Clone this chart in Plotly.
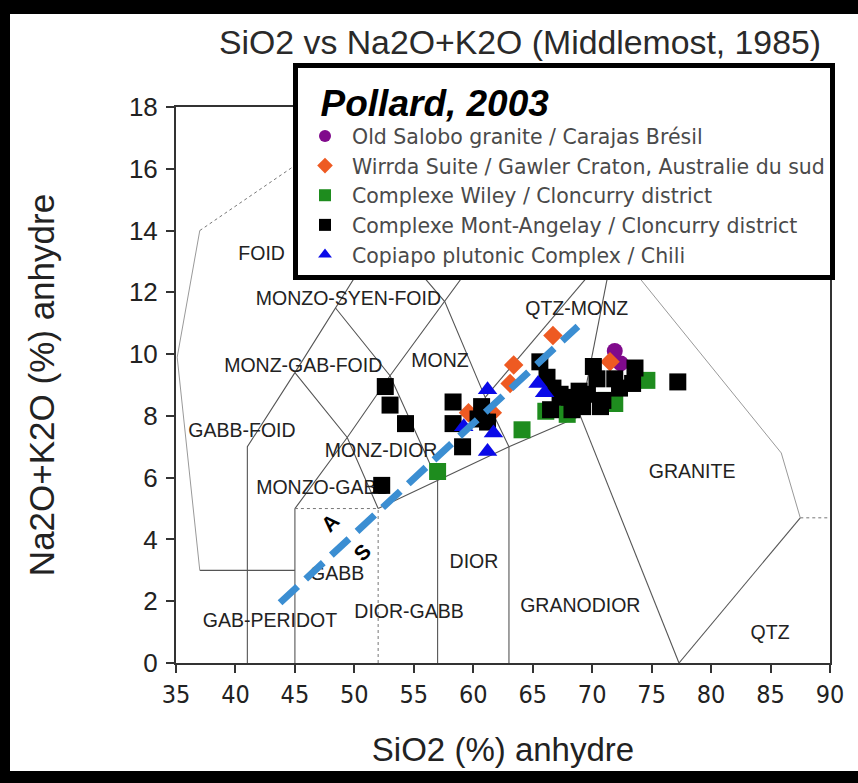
import plotly.graph_objects as go

# ---------------- data ----------------
salobo_x = [71.9, 72.4]
salobo_y = [10.1, 9.7]

wirrda_x = [66.7, 63.4, 63.1, 71.5, 59.6, 61.6]
wirrda_y = [10.6, 9.65, 9.05, 9.75, 8.1, 8.1]

wiley_x = [57.0, 64.1, 66.1, 67.9, 68.1, 71.2, 74.6, 71.9]
wiley_y = [6.2, 7.55, 8.15, 8.05, 8.3, 8.5, 9.15, 8.4]

angelay_x = [52.6, 53.0, 54.3, 52.3, 58.3, 58.3, 59.1, 60.7, 61.2, 60.4,
             65.6, 66.2, 66.7, 66.5, 67.3, 67.9, 68.3, 68.9, 69.6, 70.1,
             70.4, 70.9, 70.7, 71.9, 72.3, 73.4, 73.6, 77.2, 69.2]
angelay_y = [8.95, 8.35, 7.75, 5.75, 8.45, 7.75, 7.0, 8.3, 7.8, 7.9,
             9.75, 9.25, 8.9, 8.2, 8.7, 8.6, 8.2, 8.8, 8.7, 9.6,
             9.2, 8.5, 8.3, 9.2, 8.9, 9.05, 9.55, 9.1, 8.3]

copiapo_x = [61.2, 59.2, 61.7, 61.2, 65.45, 66.0]
copiapo_y = [8.85, 7.65, 7.45, 6.85, 9.05, 8.75]

divide_x = [43.75, 68.8]
divide_y = [1.95, 10.9]

# field boundaries (Middlemost)
solid_lines = [
    [(41, 0), (41, 7), (45, 9.4), (48.4, 11.5), (52.5, 14), (55, 16.5)],
    [(45, 0), (45, 5)],
    [(45, 5), (49.4, 7.3), (53, 9.3), (57.6, 11.7), (61, 13.5), (63, 16.2)],
    [(52, 5), (57, 5.9), (63, 7), (69, 8)],
    [(45, 9.4), (49.4, 7.3), (52, 5)],
    [(48.4, 11.5), (53, 9.3), (57, 5.9)],
    [(52.5, 14), (57.6, 11.7), (61, 8.6), (63, 7)],
    [(57, 0), (57, 5.9)],
    [(63, 0), (63, 7)],
    [(69, 8), (77.3, 0)],
    [(61, 8.6), (71.8, 13.5)],
    [(69, 8), (71.8, 13.5)],
    [(37, 3), (45, 3)],
    [(77.3, 0), (87.5, 4.7)],
]
outer_lines = [
    [(37, 3), (35.1, 9.9), (37, 14)],
    [(87.5, 4.7), (85.9, 6.8), (71.8, 13.5), (63, 16.2)],
]
dotted_lines = [
    [(45, 5), (52, 5)],
    [(52, 0), (52, 5)],
    [(87.5, 4.7), (90, 4.7)],
    [(37, 14), (44.6, 16), (52, 18)],
]

field_names = ["FOID", "MONZO-SYEN-FOID", "MONZ-GAB-FOID", "MONZ", "QTZ-MONZ",
               "GABB-FOID", "MONZ-DIOR", "MONZO-GABB", "GABB", "DIOR",
               "DIOR-GABB", "GRANODIOR", "GRANITE", "GAB-PERIDOT", "QTZ"]
field_x = [42.2, 49.5, 45.7, 57.2, 68.7, 40.55, 52.25, 47.35, 48.55, 60.06,
           54.6, 69.0, 78.4, 42.9, 84.96]
field_y = [13.2, 11.74, 9.58, 9.74, 11.42, 7.48, 6.83, 5.63, 2.85, 3.24,
           1.62, 1.81, 6.15, 1.33, 0.94]

side_labels = ["A", "S"]
side_x = [47.95, 50.64]
side_y = [4.56, 3.59]

x_ticks = [35, 40, 45, 50, 55, 60, 65, 70, 75, 80, 85, 90]
y_ticks = [0, 2, 4, 6, 8, 10, 12, 14, 16, 18]

# ---------------- figure ----------------
W, H = 858, 783
ML, MR, MT, MB = 176, 28, 107, 120
PW, PH = W - ML - MR, H - MT - MB


def px(xp):
    return (xp - ML) / PW


def py(yp):
    return (H - MB - yp) / PH


def flatten(groups):
    xs, ys = [], []
    for g in groups:
        for (a, b) in g:
            xs.append(a)
            ys.append(b)
        xs.append(None)
        ys.append(None)
    return xs, ys


fig = go.Figure()

sx, sy = flatten(solid_lines)
fig.add_trace(go.Scatter(x=sx, y=sy, mode="lines", line=dict(color="#555", width=1.1),
                         showlegend=False, hoverinfo="skip"))
ox, oy = flatten(outer_lines)
fig.add_trace(go.Scatter(x=ox, y=oy, mode="lines", line=dict(color="#999", width=1),
                         showlegend=False, hoverinfo="skip"))
dx, dy = flatten(dotted_lines)
fig.add_trace(go.Scatter(x=dx, y=dy, mode="lines", line=dict(color="#777", width=1, dash="dot"),
                         showlegend=False, hoverinfo="skip"))

fig.add_trace(go.Scatter(x=field_x, y=field_y, mode="text", text=field_names,
                         textfont=dict(family="Liberation Sans, Arial", size=19.5, color="#222"),
                         showlegend=False, hoverinfo="skip"))

fig.add_trace(go.Scatter(x=wiley_x, y=wiley_y, mode="markers", name="Complexe Wiley / Cloncurry district",
                         marker=dict(symbol="square", size=17, color="#1E8C1E"), legendrank=3))
fig.add_trace(go.Scatter(x=salobo_x, y=salobo_y, mode="markers", name="Old Salobo granite / Carajas Brésil",
                         marker=dict(symbol="circle", size=16, color="#800A8C"), legendrank=1))
fig.add_trace(go.Scatter(x=wirrda_x, y=wirrda_y, mode="markers", name="Wirrda Suite / Gawler Craton, Australie du sud",
                         marker=dict(symbol="diamond", size=15, color="#EE5A22"), legendrank=2))
fig.add_trace(go.Scatter(x=angelay_x, y=angelay_y, mode="markers", name="Complexe Mont-Angelay / Cloncurry district",
                         marker=dict(symbol="square", size=17, color="#000000"), legendrank=4))
fig.add_trace(go.Scatter(x=copiapo_x, y=copiapo_y, mode="markers", name="Copiapo plutonic Complex / Chili",
                         marker=dict(symbol="triangle-up", size=17, color="#0A0AE8"), legendrank=5))

fig.add_trace(go.Scatter(x=divide_x, y=divide_y, mode="lines",
                         line=dict(color="#3B8ED2", width=7, dash="24px,11px"),
                         showlegend=False, hoverinfo="skip"))

for lab, lx, ly in zip(side_labels, side_x, side_y):
    fig.add_annotation(x=lx, y=ly, text="<b>" + lab + "</b>", showarrow=False, textangle=-45,
                       font=dict(family="Liberation Sans, Arial", size=21, color="black"))

# black frame strips of the photograph
for (x0, x1, y0, y1) in [(0, 10, 0, H), (0, W, 0, 14), (0, W, 771, H)]:
    fig.add_shape(type="rect", xref="paper", yref="paper", x0=px(x0), x1=px(x1),
                  y0=py(y1), y1=py(y0), fillcolor="black", line=dict(width=0), layer="above")

fig.update_layout(
    width=W, height=H,
    margin=dict(l=ML, r=MR, t=MT, b=MB, autoexpand=False),
    paper_bgcolor="white", plot_bgcolor="white",
    font=dict(family="Liberation Sans, Arial", color="#222"),
    title=dict(text="SiO2 vs Na2O+K2O (Middlemost, 1985)", x=520 / W, xref="container", xanchor="center",
               y=1 - 42 / H, yref="container", yanchor="middle",
               font=dict(size=33.8, color="#2a2a2a")),
    showlegend=True,
    legend=dict(x=px(293), y=py(63), xanchor="left", yanchor="top",
                bgcolor="white", bordercolor="black", borderwidth=5,
                font=dict(family="DejaVu Sans, Verdana", size=20.5, color="#4a4a4a"),
                title=dict(text="<b><i>  Pollard, 2003</i></b>",
                           font=dict(family="Liberation Sans, Arial", size=37, color="black")),
                itemsizing="constant", itemwidth=44, tracegroupgap=0),
)
fig.update_xaxes(range=[35, 90], tickvals=x_ticks, ticktext=[str(v) for v in x_ticks],
                 showgrid=False, zeroline=False, showline=True, mirror=True,
                 linecolor="#333", linewidth=2, ticks="outside", ticklen=8, tickwidth=1.5, tickcolor="#333",
                 tickfont=dict(family="Liberation Sans Narrow, DejaVu Sans Condensed, Arial", size=25, color="#222"),
                 title=dict(text="SiO2 (%) anhydre", standoff=30,
                            font=dict(size=33, color="#222")))
fig.update_yaxes(range=[0, 18], tickvals=y_ticks, ticktext=[str(v) for v in y_ticks],
                 showgrid=False, zeroline=False, showline=True, mirror=True,
                 linecolor="#333", linewidth=2, ticks="outside", ticklen=8, tickwidth=1.5, tickcolor="#333",
                 tickfont=dict(size=26, color="#222"), ticklabelstandoff=3,
                 title=dict(text="Na2O+K2O (%) anhydre", standoff=64,
                            font=dict(size=35, color="#222")))

fig.write_html("out.html")
